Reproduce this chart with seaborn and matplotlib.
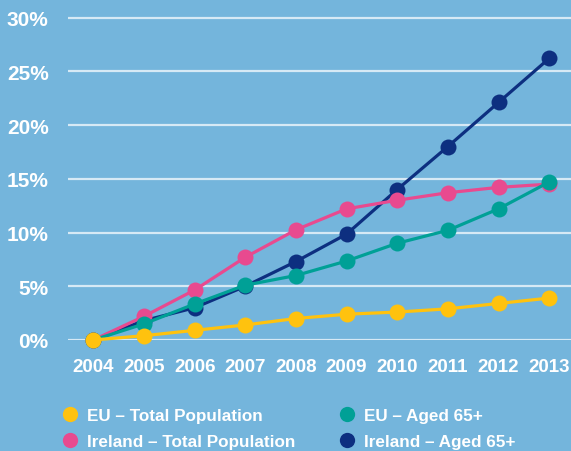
import matplotlib
matplotlib.use("Agg")
import matplotlib.pyplot as plt
from matplotlib.lines import Line2D
import seaborn as sns
import pandas as pd

years = [2004, 2005, 2006, 2007, 2008, 2009, 2010, 2011, 2012, 2013]
eu_total = [0, 0.4, 0.9, 1.4, 2.0, 2.4, 2.6, 2.9, 3.4, 3.9]
eu_65 = [0, 1.5, 3.35, 5.1, 6.0, 7.35, 9.0, 10.2, 12.2, 14.7]
ie_total = [0, 2.2, 4.65, 7.7, 10.25, 12.2, 13.0, 13.7, 14.2, 14.5]
ie_65 = [0, 1.8, 3.0, 5.0, 7.3, 9.85, 14.0, 18.0, 22.1, 26.2]
y_ticks = [0, 5, 10, 15, 20, 25, 30]
y_labels = ["0%", "5%", "10%", "15%", "20%", "25%", "30%"]

names = ["EU – Total Population", "EU – Aged 65+",
         "Ireland – Total Population", "Ireland – Aged 65+"]
colors = {"EU – Total Population": "#FFC20E",
          "EU – Aged 65+": "#00A096",
          "Ireland – Total Population": "#E84A8F",
          "Ireland – Aged 65+": "#0D2F80"}

rows = []
for n, vals in zip(names, [eu_total, eu_65, ie_total, ie_65]):
    for y, v in zip(years, vals):
        rows.append({"year": y, "value": v, "series": n})
df = pd.DataFrame(rows)

bg = "#74B5DC"
sns.set_theme(style="white")
plt.rcParams["font.family"] = ["Liberation Sans", "DejaVu Sans"]
plt.rcParams["font.weight"] = "bold"

fig = plt.figure(figsize=(5.71, 4.52), dpi=100, facecolor=bg)
ax = fig.add_axes([68 / 571, 1 - 341 / 452, (571 - 68) / 571, (341 - 12) / 452])
ax.set_facecolor(bg)

draw_order = ["Ireland – Aged 65+", "Ireland – Total Population",
              "EU – Aged 65+", "EU – Total Population"]
sns.lineplot(data=df, x="year", y="value", hue="series", hue_order=draw_order,
             palette=colors, marker="o", markersize=11.5, markeredgewidth=0,
             linewidth=2.3, legend=False, ax=ax, clip_on=False)

ax.set_xlim(2003.5, 2013.43)
ax.set_ylim(0, 30 + 6.5 / 10.75)
ax.set_yticks(y_ticks)
ax.set_yticklabels(y_labels)
ax.set_xticks(years)
ax.set_xticklabels([str(y) for y in years])
ax.tick_params(axis="y", colors="white", labelsize=15, length=0, pad=14)
ax.tick_params(axis="x", colors="white", labelsize=13.5, length=0, pad=13)
for lab in ax.get_xticklabels() + ax.get_yticklabels():
    lab.set_fontweight("bold")
ax.set_xlabel("")
ax.set_ylabel("")
for s in ax.spines.values():
    s.set_visible(False)
ax.yaxis.grid(True, color="#D6E9F5", linewidth=1.6)
ax.set_axisbelow(True)

leg_order = ["EU – Total Population", "Ireland – Total Population",
             "EU – Aged 65+", "Ireland – Aged 65+"]
handles = [Line2D([], [], linestyle="none", marker="o", markersize=11,
                  markeredgewidth=0, color=colors[n]) for n in leg_order]
fs = 12.3
px = fs * 100 / 72
leg = fig.legend(handles, leg_order, ncol=2, loc="upper left",
                 bbox_to_anchor=(62 / 571, 1 - 409 / 452), frameon=False,
                 borderpad=0, borderaxespad=0,
                 labelcolor="white", prop={"size": fs, "weight": "bold"},
                 handlelength=16 / px, handletextpad=9 / px,
                 columnspacing=44 / px, labelspacing=0.65)

fig.savefig("out.png", dpi=100, facecolor=bg)
